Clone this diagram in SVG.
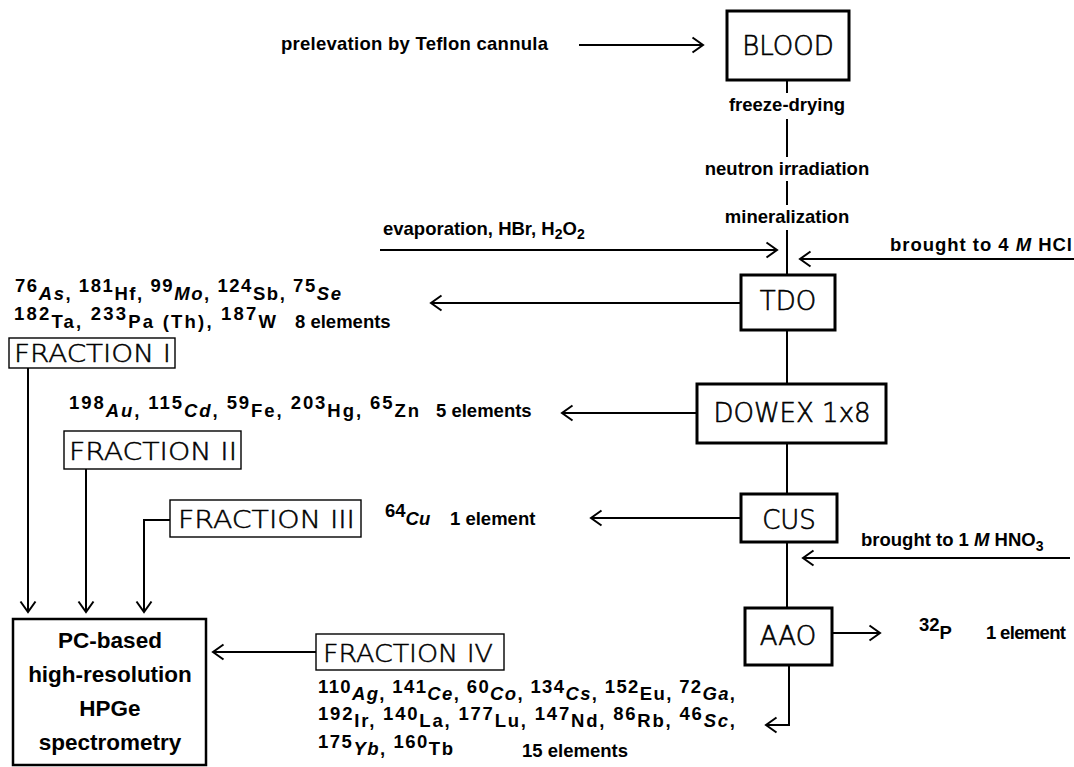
<svg xmlns="http://www.w3.org/2000/svg" width="1074" height="767" viewBox="0 0 1074 767">
  <style>
    .b { font-family: "Liberation Sans", Arial, sans-serif; font-weight: bold; font-size: 18.5px; fill: #000; }
    .i { font-style: italic; }
    .sm { font-size: 14px; }
    .lbl { font-family: "DejaVu Sans", sans-serif; font-weight: 200; font-size: 26px; fill: #000; stroke: #000; stroke-width: 0.6; text-anchor: middle; }
    .flbl { font-family: "DejaVu Sans", sans-serif; font-weight: 200; font-size: 25px; fill: #000; stroke: #000; stroke-width: 0.5; }
    .pc { font-family: "Liberation Sans", Arial, sans-serif; font-weight: bold; font-size: 22.5px; fill: #000; text-anchor: middle; }
    .box { fill: #fff; stroke: #000; stroke-width: 3; }
    .fbox { fill: #fff; stroke: #000; stroke-width: 1.4; }
    .pcbox { fill: #fff; stroke: #000; stroke-width: 2.5; }
    .c { fill: none; stroke: #000; stroke-width: 2; }
    .ca { fill: none; stroke: #000; stroke-width: 2; marker-end: url(#arr); }
  </style>
  <defs>
    <marker id="arr" markerUnits="userSpaceOnUse" viewBox="0 0 14 18" markerWidth="14" markerHeight="18" refX="12" refY="9" orient="auto">
      <path d="M1.5,1.5 L12,9 L1.5,16.5" fill="none" stroke="#000" stroke-width="2"/>
    </marker>
  </defs>

  <!-- connectors -->
  <g id="connectors">
    <line class="ca" x1="579" y1="45" x2="703" y2="45"/>
    <line class="c" x1="787" y1="80" x2="787" y2="93"/>
    <line class="c" x1="787" y1="119" x2="787" y2="157"/>
    <line class="c" x1="787" y1="181" x2="787" y2="205"/>
    <line class="c" x1="787" y1="230" x2="787" y2="275"/>
    <line class="ca" x1="380" y1="250" x2="777" y2="250"/>
    <line class="ca" x1="1074" y1="259" x2="800" y2="259"/>
    <line class="ca" x1="741" y1="303" x2="431" y2="303"/>
    <line class="c" x1="787" y1="330" x2="787" y2="384"/>
    <line class="ca" x1="697" y1="413" x2="562" y2="413"/>
    <line class="c" x1="787" y1="443" x2="787" y2="494"/>
    <line class="ca" x1="741" y1="518" x2="591" y2="518"/>
    <line class="c" x1="787" y1="542" x2="787" y2="608"/>
    <line class="ca" x1="1070" y1="558" x2="803" y2="558"/>
    <line class="ca" x1="832" y1="633" x2="880" y2="633"/>
    <polyline class="ca" points="789,665 789,725 766,725"/>
    <line class="ca" x1="28" y1="368" x2="28" y2="612"/>
    <line class="ca" x1="86" y1="469" x2="86" y2="612"/>
    <polyline class="ca" points="170,520 144,520 144,612"/>
    <line class="ca" x1="316" y1="652" x2="213" y2="652"/>
  </g>

  <!-- process steps -->
  <g id="blood">
    <rect class="box" x="727" y="11" width="122" height="69"/>
    <text class="lbl" x="788" y="55">BLOOD</text>
  </g>
  <g id="tdo">
    <rect class="box" x="741" y="275" width="94" height="55"/>
    <text class="lbl" x="788" y="310">TDO</text>
  </g>
  <g id="dowex">
    <rect class="box" x="697" y="384" width="189" height="59"/>
    <text class="lbl" x="792" y="422">DOWEX 1x8</text>
  </g>
  <g id="cus">
    <rect class="box" x="741" y="494" width="96" height="48"/>
    <text class="lbl" x="789" y="529">CUS</text>
  </g>
  <g id="aao">
    <rect class="box" x="745" y="608" width="87" height="57"/>
    <text class="lbl" x="788" y="645">AAO</text>
  </g>

  <!-- fractions -->
  <g id="fraction-1">
    <rect class="fbox" x="9" y="338" width="166" height="30"/>
    <text class="flbl" x="14" y="362" textLength="157" lengthAdjust="spacingAndGlyphs">FRACTION I</text>
  </g>
  <g id="fraction-2">
    <rect class="fbox" x="64" y="431" width="177" height="38"/>
    <text class="flbl" x="69" y="460" textLength="168" lengthAdjust="spacingAndGlyphs">FRACTION II</text>
  </g>
  <g id="fraction-3">
    <rect class="fbox" x="170" y="500" width="191" height="37"/>
    <text class="flbl" x="178" y="528" textLength="177" lengthAdjust="spacingAndGlyphs">FRACTION III</text>
  </g>
  <g id="fraction-4">
    <rect class="fbox" x="316" y="634" width="188" height="36"/>
    <text class="flbl" x="323" y="662" textLength="170" lengthAdjust="spacingAndGlyphs">FRACTION IV</text>
  </g>

  <!-- detector -->
  <g id="spectrometry">
    <rect class="pcbox" x="13" y="619" width="193" height="146"/>
    <text class="pc" x="110" y="648">PC-based</text>
    <text class="pc" x="110" y="682">high-resolution</text>
    <text class="pc" x="110" y="716">HPGe</text>
    <text class="pc" x="110" y="750">spectrometry</text>
  </g>

  <!-- step annotations -->
  <g id="notes">
    <text class="b" x="281" y="50" textLength="267">prelevation by Teflon cannula</text>
    <text class="b" x="787" y="111" text-anchor="middle">freeze-drying</text>
    <text class="b" x="787" y="175" text-anchor="middle">neutron irradiation</text>
    <text class="b" x="787" y="223" text-anchor="middle">mineralization</text>
    <text class="b" x="383" y="235">evaporation, HBr, H<tspan class="sm" dy="4">2</tspan><tspan dy="-4">O</tspan><tspan class="sm" dy="4">2</tspan></text>
    <text class="b" x="890" y="251" textLength="182">brought to 4 <tspan class="i">M</tspan> HCl</text>
    <text class="b" x="861" y="546">brought to 1 <tspan class="i">M</tspan> HNO<tspan class="sm" dy="5">3</tspan></text>
  </g>

  <!-- isotope lists -->
  <g id="isotopes">
    <text class="b" x="15" y="300" textLength="326"><tspan dy="-8">76</tspan><tspan class="i" dy="8">As</tspan>, <tspan dy="-8">181</tspan><tspan dy="8">Hf</tspan>, <tspan dy="-8">99</tspan><tspan class="i" dy="8">Mo</tspan>, <tspan dy="-8">124</tspan><tspan dy="8">Sb</tspan>, <tspan dy="-8">75</tspan><tspan class="i" dy="8">Se</tspan></text>
    <text class="b" x="14" y="328" textLength="262"><tspan dy="-8">182</tspan><tspan dy="8">Ta</tspan>, <tspan dy="-8">233</tspan><tspan dy="8">Pa</tspan> (Th), <tspan dy="-8">187</tspan><tspan dy="8">W</tspan></text>
    <text class="b" x="295" y="328">8 elements</text>

    <text class="b" x="69" y="417" textLength="350"><tspan dy="-8">198</tspan><tspan class="i" dy="8">Au</tspan>, <tspan dy="-8">115</tspan><tspan class="i" dy="8">Cd</tspan>, <tspan dy="-8">59</tspan><tspan dy="8">Fe</tspan>, <tspan dy="-8">203</tspan><tspan dy="8">Hg</tspan>, <tspan dy="-8">65</tspan><tspan dy="8">Zn</tspan></text>
    <text class="b" x="436" y="417">5 elements</text>

    <text class="b" x="385" y="525"><tspan dy="-8">64</tspan><tspan class="i" dy="8">Cu</tspan></text>
    <text class="b" x="450" y="525">1 element</text>

    <text class="b" x="919" y="639"><tspan dy="-8">32</tspan><tspan dy="8">P</tspan></text>
    <text class="b" x="986" y="639" textLength="80">1 element</text>

    <text class="b" x="318" y="700" textLength="417"><tspan dy="-7">110</tspan><tspan class="i" dy="7">Ag</tspan>, <tspan dy="-7">141</tspan><tspan class="i" dy="7">Ce</tspan>, <tspan dy="-7">60</tspan><tspan class="i" dy="7">Co</tspan>, <tspan dy="-7">134</tspan><tspan class="i" dy="7">Cs</tspan>, <tspan dy="-7">152</tspan><tspan dy="7">Eu</tspan>, <tspan dy="-7">72</tspan><tspan class="i" dy="7">Ga</tspan>,</text>
    <text class="b" x="318" y="727" textLength="417"><tspan dy="-7">192</tspan><tspan dy="7">Ir</tspan>, <tspan dy="-7">140</tspan><tspan dy="7">La</tspan>, <tspan dy="-7">177</tspan><tspan dy="7">Lu</tspan>, <tspan dy="-7">147</tspan><tspan dy="7">Nd</tspan>, <tspan dy="-7">86</tspan><tspan dy="7">Rb</tspan>, <tspan dy="-7">46</tspan><tspan class="i" dy="7">Sc</tspan>,</text>
    <text class="b" x="318" y="755" textLength="135"><tspan dy="-7">175</tspan><tspan class="i" dy="7">Yb</tspan>, <tspan dy="-7">160</tspan><tspan dy="7">Tb</tspan></text>
    <text class="b" x="522" y="757">15 elements</text>
  </g>
</svg>
